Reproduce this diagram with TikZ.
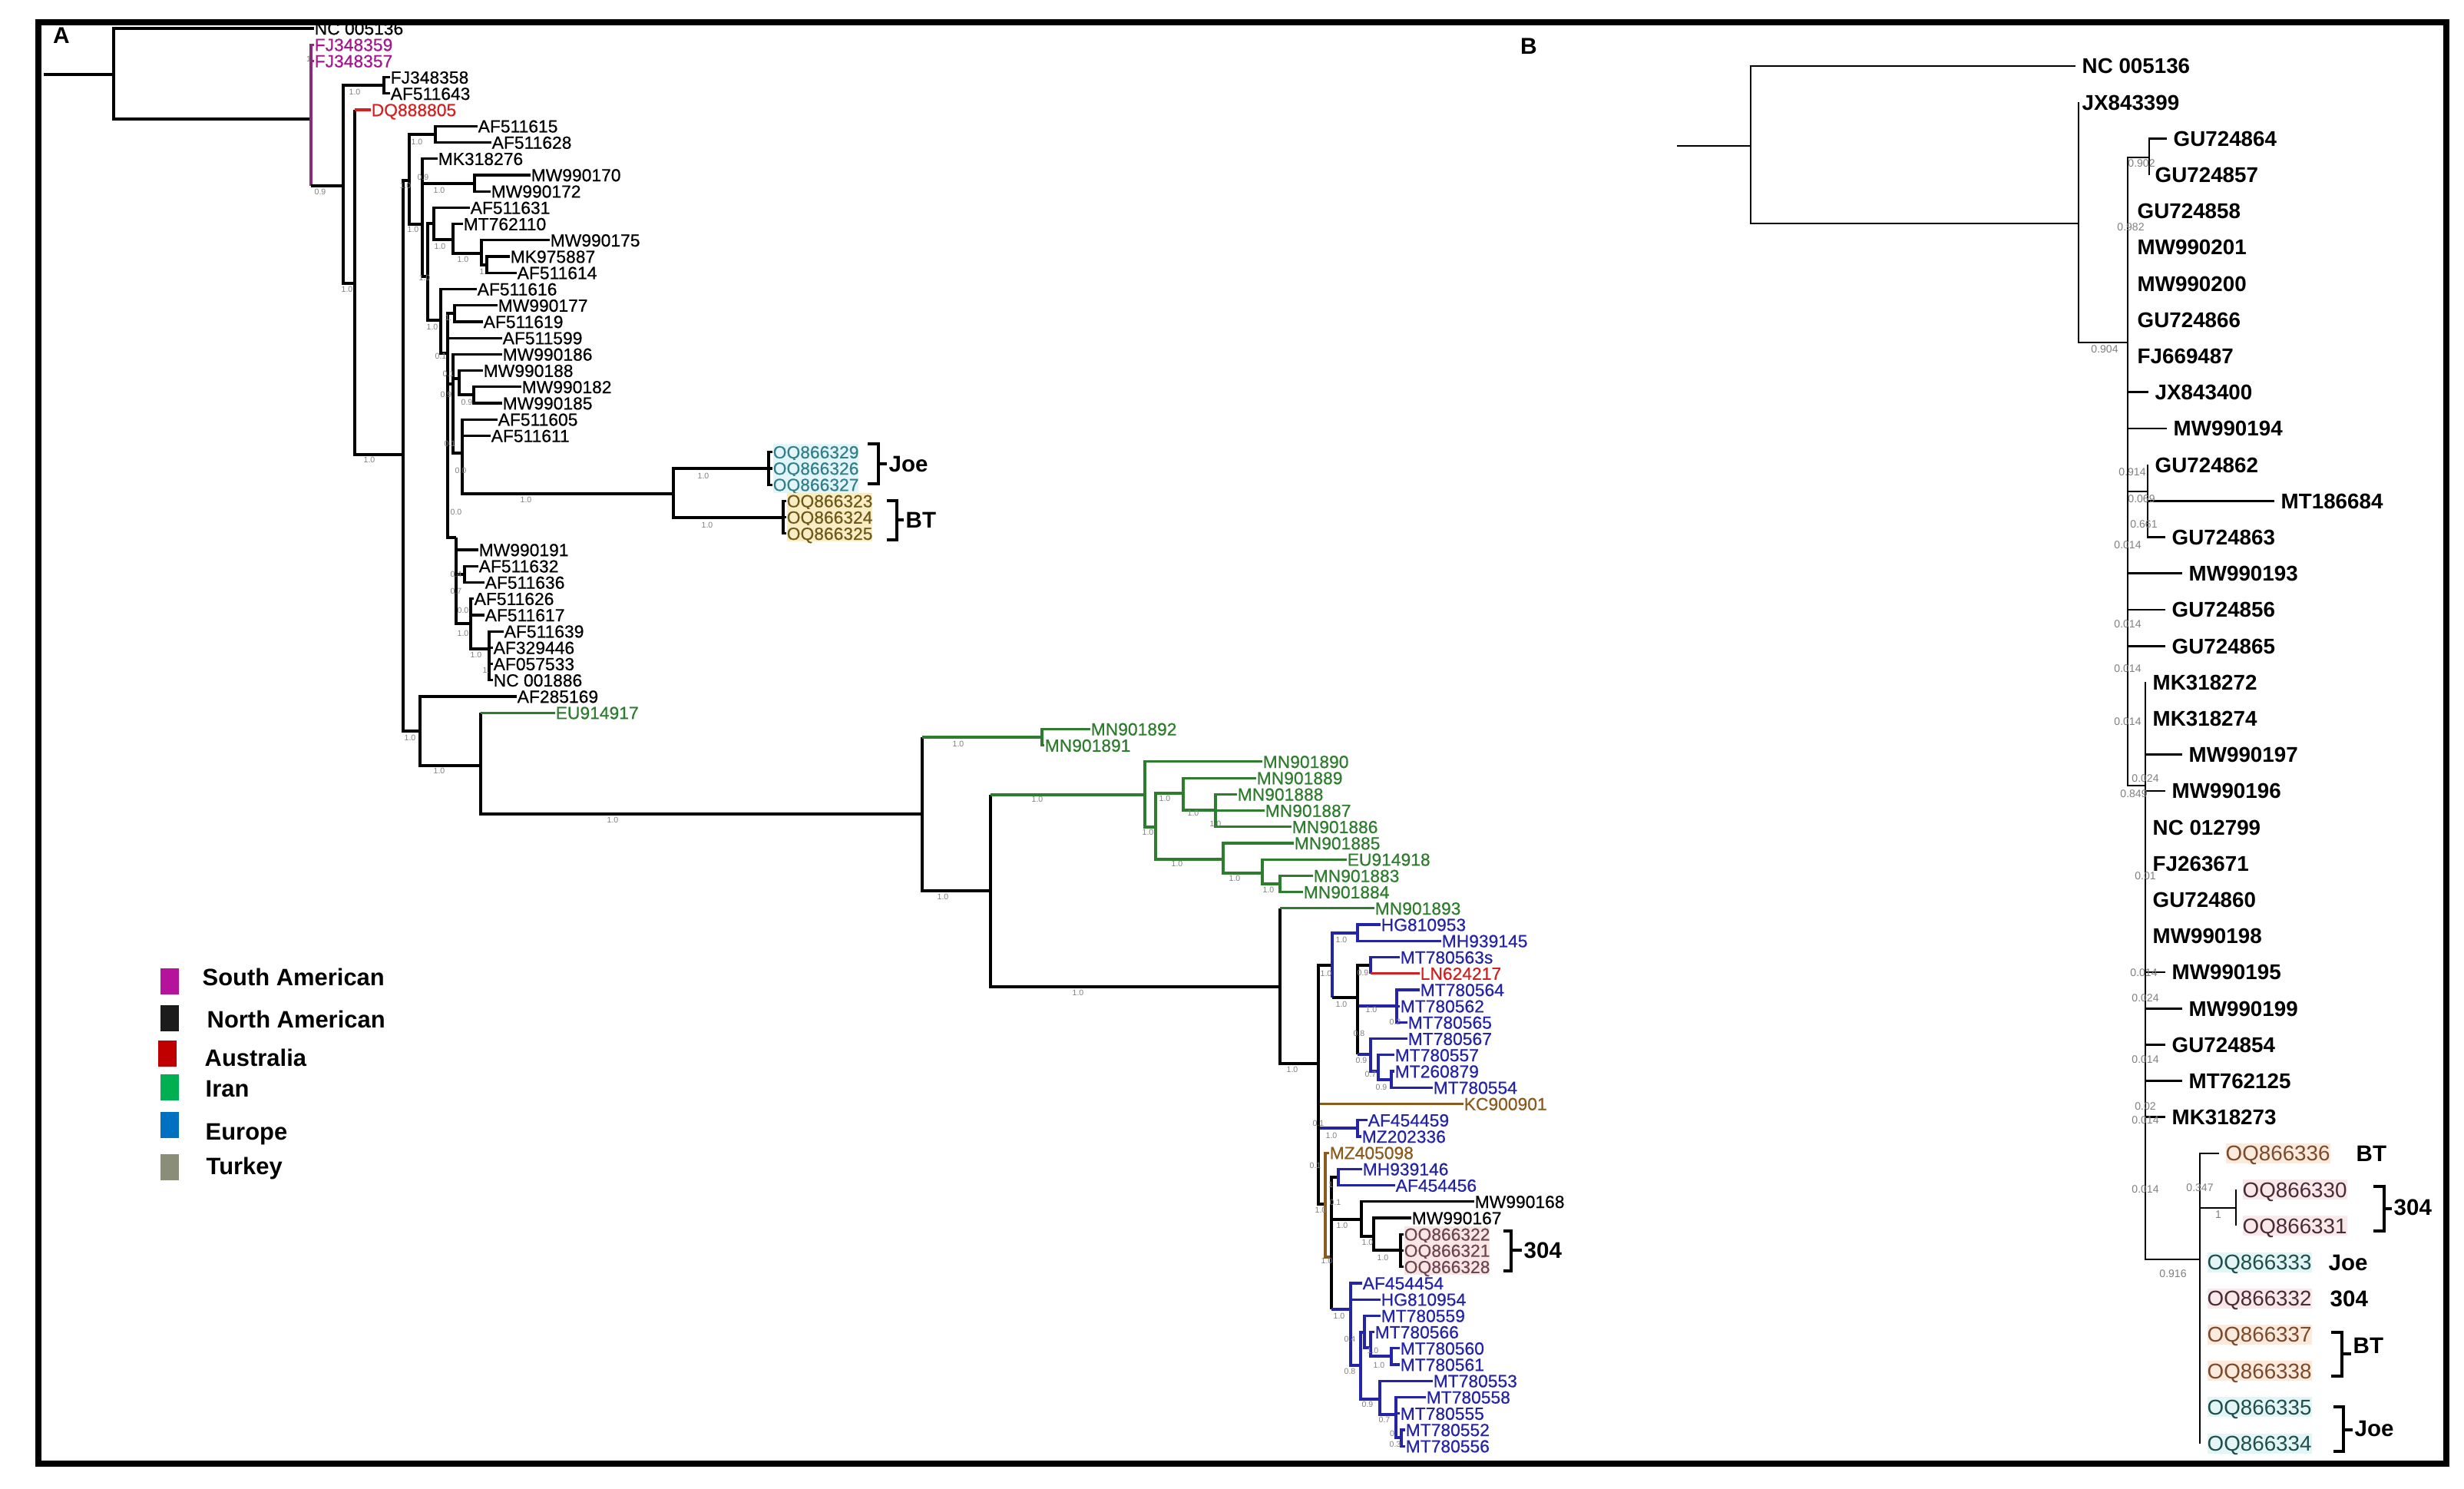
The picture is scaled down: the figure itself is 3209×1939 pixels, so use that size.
\documentclass[tikz,border=0pt]{standalone}
\usepackage{fontspec}
\setmainfont{Liberation Sans}
\newfontfamily\heavyA[FakeBold=0.6]{Liberation Sans}
\usetikzlibrary{calc}
\definecolor{cMag}{HTML}{A5168F}
\definecolor{cPur}{HTML}{8A2A7A}
\definecolor{cRed}{HTML}{D42020}
\definecolor{cGrn}{HTML}{2E7D2E}
\definecolor{cBlu}{HTML}{2424A8}
\definecolor{cBrn}{HTML}{8B5A1E}
\definecolor{tA}{HTML}{347F8C}\definecolor{tAbg}{HTML}{E2F6FA}
\definecolor{oA}{HTML}{6E5A18}\definecolor{oAbg}{HTML}{FAEDC4}
\definecolor{mA}{HTML}{6E4652}\definecolor{mAbg}{HTML}{FBE6E6}
\definecolor{bB}{HTML}{7B4A2C}\definecolor{bBbg}{HTML}{FCEADC}
\definecolor{mB}{HTML}{4A2B38}\definecolor{mBbg}{HTML}{FAE9EA}
\definecolor{tB}{HTML}{1F4E4E}\definecolor{tBbg}{HTML}{E3F5F5}
\definecolor{supgray}{HTML}{808080}
\definecolor{lgMag}{HTML}{B5139B}
\definecolor{lgBlk}{HTML}{1B1B1B}
\definecolor{lgRed}{HTML}{C00000}
\definecolor{lgGrn}{HTML}{00B050}
\definecolor{lgBlu}{HTML}{0070C0}
\definecolor{lgGry}{HTML}{8A8D78}
\tikzset{
  br/.style={line width=0.32mm},
  brB/.style={line width=0.28mm},
  lfA/.style={font=\heavyA\fontsize{6.5}{7}\selectfont, inner sep=0pt, text height=4.65pt, text depth=0pt, anchor=west},
  lfB/.style={font=\bfseries\fontsize{7.9}{9}\selectfont, inner sep=0pt, text height=5.66pt, text depth=0pt, anchor=west},
  oqAt/.style={text=tA, fill=tAbg, inner ysep=0.25mm},
  oqAo/.style={text=oA, fill=oAbg, inner ysep=0.25mm},
  oqAm/.style={text=mA, fill=mAbg, inner ysep=0.25mm},
  oqBb/.style={font=\fontsize{7.9}{9}\selectfont, text=bB, fill=bBbg, inner ysep=0.3mm},
  oqBm/.style={font=\fontsize{7.9}{9}\selectfont, text=mB, fill=mBbg, inner ysep=0.3mm},
  oqBt/.style={font=\fontsize{7.9}{9}\selectfont, text=tB, fill=tBbg, inner ysep=0.3mm},
  supA/.style={font=\fontsize{3}{3}\selectfont, text=supgray, inner sep=0pt},
  supB/.style={font=\fontsize{4}{4}\selectfont, text=supgray, inner sep=0pt},
  tagA/.style={font=\bfseries\fontsize{8.4}{9}\selectfont, inner sep=0pt, text height=6pt, text depth=0pt, anchor=west},
  brk/.style={line width=0.35mm},
  leg/.style={font=\bfseries\fontsize{8.8}{10}\selectfont, inner sep=0pt, text height=6.3pt, text depth=0pt, anchor=west},
  swatch/.style={inner sep=0pt, minimum width=2.4mm, minimum height=3.4mm, anchor=north west},
  pan/.style={font=\bfseries\fontsize{8.5}{9}\selectfont, inner sep=0pt},
}
\newcounter{supc}
\newcommand\leafa[4][]{\node[lfA,#1] (a#2) at (#3,{37+21.22*#2}) {#4};}
\newcommand\leafb[4][]{\node[lfB,#1] (b#2) at (#3,{86+47.2*#2}) {#4};}
\newcommand\brE[3][]{\draw[br,#1] (#2) |- (#3);}
\newcommand\brV[3][]{\draw[br,#1] (#2) -- (#2 |- #3);}
\newcommand\brH[3][]{\draw[br,#1] (#2 |- #3) -- (#3);}
\newcommand\bbE[2]{\draw[brB] (#1) |- (#2);}
\newcommand\bbL[2]{\draw[brB,shorten >=0.8mm] (#1) |- (#2);}
\newcommand\bbV[2]{\draw[brB] (#1) -- (#1 |- #2);}
\newcommand\supa[3]{\stepcounter{supc}\node[supA] (sup\arabic{supc}) at (#1,#2) {#3};}
\newcommand\supb[3]{\stepcounter{supc}\node[supB] (sup\arabic{supc}) at (#1,#2) {#3};}
\begin{document}
\begin{tikzpicture}[x=0.1mm,y=-0.1mm]
\useasboundingbox (0,0) rectangle (3209,1939);
\fill[white] (0,0) rectangle (3209,1939);
\draw[line width=0.8mm] (50,29) rectangle (3186,1906);
\node[pan] (panA) at (80,46) {A};
\node[pan] (panB) at (1991,60) {B};

% ---------------- Panel A leaves ----------------
\leafa{0}{409}{NC 005136}
\leafa[text=cMag]{1}{409}{FJ348359}
\leafa[text=cMag]{2}{409}{FJ348357}
\leafa{3}{508}{FJ348358}
\leafa{4}{508}{AF511643}
\leafa[text=cRed]{5}{483}{DQ888805}
\leafa{6}{622}{AF511615}
\leafa{7}{640}{AF511628}
\leafa{8}{570}{MK318276}
\leafa{9}{691}{MW990170}
\leafa{10}{639}{MW990172}
\leafa{11}{612}{AF511631}
\leafa{12}{603}{MT762110}
\leafa{13}{716}{MW990175}
\leafa{14}{664}{MK975887}
\leafa{15}{673}{AF511614}
\leafa{16}{621}{AF511616}
\leafa{17}{648}{MW990177}
\leafa{18}{629}{AF511619}
\leafa{19}{654}{AF511599}
\leafa{20}{654}{MW990186}
\leafa{21}{629}{MW990188}
\leafa{22}{679}{MW990182}
\leafa{23}{654}{MW990185}
\leafa{24}{648}{AF511605}
\leafa{25}{639}{AF511611}
\leafa[oqAt]{26}{1006}{OQ866329}
\leafa[oqAt]{27}{1006}{OQ866326}
\leafa[oqAt]{28}{1006}{OQ866327}
\leafa[oqAo]{29}{1024}{OQ866323}
\leafa[oqAo]{30}{1024}{OQ866324}
\leafa[oqAo]{31}{1024}{OQ866325}
\leafa{32}{623}{MW990191}
\leafa{33}{623}{AF511632}
\leafa{34}{631}{AF511636}
\leafa{35}{617}{AF511626}
\leafa{36}{631}{AF511617}
\leafa{37}{656}{AF511639}
\leafa{38}{642}{AF329446}
\leafa{39}{642}{AF057533}
\leafa{40}{642}{NC 001886}
\leafa{41}{673}{AF285169}
\leafa[text=cGrn]{42}{723}{EU914917}
\leafa[text=cGrn]{43}{1420}{MN901892}
\leafa[text=cGrn]{44}{1360}{MN901891}
\leafa[text=cGrn]{45}{1644}{MN901890}
\leafa[text=cGrn]{46}{1636}{MN901889}
\leafa[text=cGrn]{47}{1611}{MN901888}
\leafa[text=cGrn]{48}{1647}{MN901887}
\leafa[text=cGrn]{49}{1682}{MN901886}
\leafa[text=cGrn]{50}{1685}{MN901885}
\leafa[text=cGrn]{51}{1754}{EU914918}
\leafa[text=cGrn]{52}{1710}{MN901883}
\leafa[text=cGrn]{53}{1697}{MN901884}
\leafa[text=cGrn]{54}{1790}{MN901893}
\leafa[text=cBlu]{55}{1798}{HG810953}
\leafa[text=cBlu]{56}{1877}{MH939145}
\leafa[text=cBlu]{57}{1823}{MT780563s}
\leafa[text=cRed]{58}{1849}{LN624217}
\leafa[text=cBlu]{59}{1849}{MT780564}
\leafa[text=cBlu]{60}{1823}{MT780562}
\leafa[text=cBlu]{61}{1833}{MT780565}
\leafa[text=cBlu]{62}{1833}{MT780567}
\leafa[text=cBlu]{63}{1816}{MT780557}
\leafa[text=cBlu]{64}{1816}{MT260879}
\leafa[text=cBlu]{65}{1866}{MT780554}
\leafa[text=cBrn]{66}{1906}{KC900901}
\leafa[text=cBlu]{67}{1781}{AF454459}
\leafa[text=cBlu]{68}{1773}{MZ202336}
\leafa[text=cBrn]{69}{1731}{MZ405098}
\leafa[text=cBlu]{70}{1774}{MH939146}
\leafa[text=cBlu]{71}{1817}{AF454456}
\leafa{72}{1920}{MW990168}
\leafa{73}{1838}{MW990167}
\leafa[oqAm]{74}{1828}{OQ866322}
\leafa[oqAm]{75}{1828}{OQ866321}
\leafa[oqAm]{76}{1828}{OQ866328}
\leafa[text=cBlu]{77}{1774}{AF454454}
\leafa[text=cBlu]{78}{1798}{HG810954}
\leafa[text=cBlu]{79}{1798}{MT780559}
\leafa[text=cBlu]{80}{1790}{MT780566}
\leafa[text=cBlu]{81}{1823}{MT780560}
\leafa[text=cBlu]{82}{1823}{MT780561}
\leafa[text=cBlu]{83}{1866}{MT780553}
\leafa[text=cBlu]{84}{1857}{MT780558}
\leafa[text=cBlu]{85}{1823}{MT780555}
\leafa[text=cBlu]{86}{1830}{MT780552}
\leafa[text=cBlu]{87}{1830}{MT780556}

% ---------------- Panel A internal nodes ----------------
\coordinate (R0) at (57,97);
\coordinate (R) at (148,97);
\coordinate (N1) at (405,155);
\coordinate (N2) at (447,242);
\coordinate (N3) at (500,111);
\coordinate (N4) at (462,369);
\coordinate (N5) at (525,592);
\coordinate (N6) at (533,235);
\coordinate (N6a) at (567,175);
\coordinate (N6b) at (550,292);
\coordinate (N6c) at (618,239);
\coordinate (N6e) at (557,360);
\coordinate (N6f) at (565,291);
\coordinate (N6h) at (590,312);
\coordinate (N6i) at (627,330);
\coordinate (N6j) at (634,345);
\coordinate (N6g) at (574,417);
\coordinate (N6k) at (583,460);
\coordinate (N6l) at (592,408);
\coordinate (N6m) at (590,500);
\coordinate (N6n) at (598,493);
\coordinate (N6o) at (617,514);
\coordinate (N6p) at (602,590);
\coordinate (N6r) at (877,643);
\coordinate (N6r1) at (1001,610);
\coordinate (N6r2) at (1020,674);
\coordinate (N6q) at (594,700);
\coordinate (N6s) at (605,748);
\coordinate (N6t) at (613,812);
\coordinate (N6u) at (637,845);
\coordinate (N7) at (547,952);
\coordinate (N8) at (626,997);
\coordinate (N9) at (1201,1060);
\coordinate (N10) at (1357,960);
\coordinate (N11) at (1290,1160);
\coordinate (N12) at (1491,1035);
\coordinate (N13) at (1505,1077);
\coordinate (N14) at (1541,1033);
\coordinate (N15) at (1583,1055);
\coordinate (N16) at (1593,1119);
\coordinate (N17) at (1644,1137);
\coordinate (N18) at (1667,1151);
\coordinate (N20) at (1667,1285);
\coordinate (N21) at (1717,1385);
\coordinate (N22) at (1735,1257);
\coordinate (N23) at (1768,1215);
\coordinate (N24) at (1768,1299);
\coordinate (N25) at (1785,1257);
\coordinate (N26) at (1819,1310);
\coordinate (N27) at (1785,1373);
\coordinate (N28) at (1795,1395);
\coordinate (N29) at (1812,1406);
\coordinate (N30) at (1768,1469);
\coordinate (N31) at (1726,1568);
\coordinate (N32) at (1734,1637);
\coordinate (N33) at (1743,1533);
\coordinate (N34) at (1773,1588);
\coordinate (N35) at (1789,1610);
\coordinate (N36) at (1824,1628);
\coordinate (N40) at (1759,1705);
\coordinate (N41) at (1772,1778);
\coordinate (N42) at (1777,1735);
\coordinate (N43) at (1785,1755);
\coordinate (N44) at (1812,1766);
\coordinate (N45) at (1797,1822);
\coordinate (N46) at (1818,1842);
\coordinate (N47) at (1825,1872);

% ---------------- Panel A branches ----------------
\draw[br] (R0) -- (R);
\brE{R}{a0} \brE{R}{N1}
\brE[cPur]{N1}{a1} \brE[cPur]{N1}{a2} \brV[cPur]{N1}{N2} \brH{N1}{N2}
\brE{N2}{N3} \brE{N2}{N4}
\brE{N3}{a3} \brE{N3}{a4}
\brV{N4}{a5} \brH[cRed]{N4}{a5} \brE{N4}{N5}
\brE{N5}{N6} \brE{N5}{N7}
\brE{N6}{N6a} \brE{N6}{N6b}
\brE{N6a}{a6} \brE{N6a}{a7}
\brE{N6b}{a8} \brE{N6b}{N6c} \brE{N6b}{N6e}
\brE{N6c}{a9} \brE{N6c}{a10}
\brE{N6e}{N6f} \brE{N6e}{N6g}
\brE{N6f}{a11} \brE{N6f}{N6h}
\brE{N6h}{a12} \brE{N6h}{N6i}
\brE{N6i}{a13} \brE{N6i}{N6j}
\brE{N6j}{a14} \brE{N6j}{a15}
\brE{N6g}{a16} \brE{N6g}{N6k}
\brE{N6k}{N6l} \brE{N6k}{a19} \brE{N6k}{N6m} \brE{N6k}{N6q}
\brE{N6l}{a17} \brE{N6l}{a18}
\brE{N6m}{a20} \brE{N6m}{N6n} \brE{N6m}{N6p}
\brE{N6n}{a21} \brE{N6n}{N6o}
\brE{N6o}{a22} \brE{N6o}{a23}
\brE{N6p}{a24} \brE{N6p}{a25} \brE{N6p}{N6r}
\brE{N6r}{N6r1} \brE{N6r}{N6r2}
\brE{N6r1}{a26} \brE{N6r1}{a27} \brE{N6r1}{a28}
\brE{N6r2}{a29} \brE{N6r2}{a30} \brE{N6r2}{a31}
\brE{N6q}{a32} \brE{N6q}{N6s} \brE{N6q}{N6t}
\brE{N6s}{a33} \brE{N6s}{a34}
\brE{N6t}{a35} \brE{N6t}{a36} \brE{N6t}{N6u}
\brE{N6u}{a37} \brE{N6u}{a38} \brE{N6u}{a39} \brE{N6u}{a40}
\brE{N7}{a41} \brE{N7}{N8}
\brV{N8}{a42} \brH[cGrn]{N8}{a42} \brE{N8}{N9}
\brV{N9}{N10} \brH[cGrn]{N9}{N10} \brE{N9}{N11}
\brE[cGrn]{N10}{a43} \brE[cGrn]{N10}{a44}
\brV{N11}{N12} \brH[cGrn]{N11}{N12} \brE{N11}{N20}
\brE[cGrn]{N12}{a45} \brE[cGrn]{N12}{N13}
\brE[cGrn]{N13}{N14} \brE[cGrn]{N13}{N16}
\brE[cGrn]{N14}{a46} \brE[cGrn]{N14}{N15}
\brE[cGrn]{N15}{a47} \brE[cGrn]{N15}{a48} \brE[cGrn]{N15}{a49}
\brE[cGrn]{N16}{a50} \brE[cGrn]{N16}{N17}
\brE[cGrn]{N17}{a51} \brE[cGrn]{N17}{N18}
\brE[cGrn]{N18}{a52} \brE[cGrn]{N18}{a53}
\brV{N20}{a54} \brH[cGrn]{N20}{a54} \brE{N20}{N21}
\brE{N21}{N22}
\brV{N21}{a66} \brH[cBrn]{N21}{a66}
\brV{N21}{N30} \brH[cBlu]{N21}{N30}
\brE{N21}{N31}
\brE[cBlu]{N22}{N23} \brV[cBlu]{N22}{N24} \brH{N22}{N24}
\brE[cBlu]{N23}{a55} \brE[cBlu]{N23}{a56}
\brE{N24}{N25}
\brV{N24}{N26} \brH[cBlu]{N24}{N26}
\brV{N24}{N27} \brH[cBlu]{N24}{N27}
\brE[cBlu]{N25}{a57} \brV[cBlu]{N25}{a58} \brH[cRed]{N25}{a58}
\brE[cBlu]{N26}{a59} \brE[cBlu]{N26}{a60} \brE[cBlu]{N26}{a61}
\brE[cBlu]{N27}{a62} \brE[cBlu]{N27}{N28}
\brE[cBlu]{N28}{a63} \brE[cBlu]{N28}{N29}
\brE[cBlu]{N29}{a64} \brE[cBlu]{N29}{a65}
\brE[cBlu]{N30}{a67} \brE[cBlu]{N30}{a68}
\brE[cBrn]{N31}{a69} \brE[cBrn]{N31}{N32}
\brE{N32}{N33} \brE{N32}{N34} \brV{N32}{N40} \brH[cBlu]{N32}{N40}
\brE[cBlu]{N33}{a70} \brE[cBlu]{N33}{a71}
\brE{N34}{a72} \brE{N34}{N35}
\brE{N35}{a73} \brE{N35}{N36}
\brE{N36}{a74} \brE{N36}{a75} \brE{N36}{a76}
\brE[cBlu]{N40}{a77} \brE[cBlu]{N40}{a78} \brE[cBlu]{N40}{N41}
\brE[cBlu]{N41}{N42} \brE[cBlu]{N41}{N45}
\brE[cBlu]{N42}{a79} \brE[cBlu]{N42}{N43}
\brE[cBlu]{N43}{a80} \brE[cBlu]{N43}{N44}
\brE[cBlu]{N44}{a81} \brE[cBlu]{N44}{a82}
\brE[cBlu]{N45}{a83} \brE[cBlu]{N45}{N46}
\brE[cBlu]{N46}{a84} \brE[cBlu]{N46}{a85} \brE[cBlu]{N46}{N47}
\brE[cBlu]{N47}{a86} \brE[cBlu]{N47}{a87}

% brackets A
\draw[brk] (1130,578) -- (1144,578) -- (1144,630) -- (1130,630);
\draw[brk] (1144,604) -- (1155,604);
\node[tagA] (tJoeA) at (1157,604) {Joe};
\draw[brk] (1155,652) -- (1168,652) -- (1168,703) -- (1155,703);
\draw[brk] (1168,677) -- (1177,677);
\node[tagA] (tBTA) at (1179,677) {BT};
\draw[brk] (1958,1603) -- (1968,1603) -- (1968,1655) -- (1958,1655);
\draw[brk] (1968,1628) -- (1982,1628);
\node[tagA] (t304A) at (1984,1628) {304};

% supports A
\supa{402}{77}{1}
\supa{462}{120}{1.0}
\supa{417}{250}{0.9}
\supa{452}{377}{1.0}
\supa{543}{185}{1.0}
\supa{551}{231}{0.9}
\supa{528}{242}{1.0}
\supa{572}{248}{1.0}
\supa{538}{299}{1.0}
\supa{573}{321}{1.0}
\supa{603}{338}{1.0}
\supa{629}{354}{1.}
\supa{553}{362}{1.0}
\supa{563}{426}{1.0}
\supa{584}{414}{1.}
\supa{574}{464}{0.1}
\supa{584}{487}{0.1}
\supa{581}{514}{0.9}
\supa{608}{524}{0.9}
\supa{586}{578}{0.1}
\supa{481}{599}{1.0}
\supa{600}{613}{0.0}
\supa{685}{651}{1.0}
\supa{594}{667}{0.0}
\supa{916}{620}{1.0}
\supa{921}{684}{1.0}
\supa{594}{748}{0.4}
\supa{594}{770}{0.7}
\supa{603}{795}{0.0}
\supa{603}{825}{1.0}
\supa{620}{853}{1.0}
\supa{633}{873}{1.}
\supa{534}{961}{1.0}
\supa{572}{1004}{1.0}
\supa{798}{1068}{1.0}
\supa{1248}{969}{1.0}
\supa{1228}{1168}{1.0}
\supa{1351}{1041}{1.0}
\supa{1404}{1293}{1.0}
\supa{1517}{1040}{1.0}
\supa{1495}{1084}{1.0}
\supa{1554}{1059}{1.0}
\supa{1583}{1073}{1.0}
\supa{1533}{1125}{1.0}
\supa{1608}{1144}{1.0}
\supa{1652}{1159}{1.0}
\supa{1683}{1393}{1.0}
\supa{1727}{1268}{1.0}
\supa{1747}{1224}{1.0}
\supa{1747}{1308}{1.0}
\supa{1775}{1267}{0.9}
\supa{1786}{1315}{1.0}
\supa{1817}{1331}{0.2}
\supa{1770}{1346}{0.8}
\supa{1773}{1381}{0.9}
\supa{1785}{1399}{0.7}
\supa{1799}{1416}{0.9}
\supa{1717}{1463}{0.1}
\supa{1734}{1479}{1.0}
\supa{1713}{1518}{0.1}
\supa{1720}{1576}{1.0}
\supa{1739}{1566}{0.1}
\supa{1733}{1543}{1}
\supa{1748}{1596}{1.0}
\supa{1781}{1618}{1.0}
\supa{1801}{1638}{1.0}
\supa{1728}{1642}{1.0}
\supa{1744}{1714}{1.0}
\supa{1758}{1744}{0.4}
\supa{1788}{1759}{1.0}
\supa{1758}{1786}{0.8}
\supa{1796}{1778}{1.0}
\supa{1781}{1829}{0.9}
\supa{1803}{1849}{0.7}
\supa{1813}{1867}{0}
\supa{1817}{1881}{0.3}

% legend
\node[swatch, fill=lgMag] (sw1) at (208,1260) {};
\node[swatch, fill=lgBlk] (sw2) at (208,1308) {};
\node[swatch, fill=lgRed] (sw3) at (205,1354) {};
\node[swatch, fill=lgGrn] (sw4) at (208,1398) {};
\node[swatch, fill=lgBlu] (sw5) at (208,1447) {};
\node[swatch, fill=lgGry] (sw6) at (208,1502) {};
\node[leg] (lg1) at (263,1272) {South American};
\node[leg] (lg2) at (269,1327) {North American};
\node[leg] (lg3) at (266,1377) {Australia};
\node[leg] (lg4) at (267,1417) {Iran};
\node[leg] (lg5) at (267,1473) {Europe};
\node[leg] (lg6) at (268,1518) {Turkey};

% ---------------- Panel B ----------------
\leafb{0}{2711}{NC 005136}
\leafb{1}{2711}{JX843399}
\leafb{2}{2830}{GU724864}
\leafb{3}{2806}{GU724857}
\leafb{4}{2783}{GU724858}
\leafb{5}{2783}{MW990201}
\leafb{6}{2783}{MW990200}
\leafb{7}{2783}{GU724866}
\leafb{8}{2783}{FJ669487}
\leafb{9}{2806}{JX843400}
\leafb{10}{2830}{MW990194}
\leafb{11}{2806}{GU724862}
\leafb{12}{2970}{MT186684}
\leafb{13}{2828}{GU724863}
\leafb{14}{2850}{MW990193}
\leafb{15}{2828}{GU724856}
\leafb{16}{2828}{GU724865}
\leafb{17}{2803}{MK318272}
\leafb{18}{2803}{MK318274}
\leafb{19}{2850}{MW990197}
\leafb{20}{2828}{MW990196}
\leafb{21}{2803}{NC 012799}
\leafb{22}{2803}{FJ263671}
\leafb{23}{2803}{GU724860}
\leafb{24}{2803}{MW990198}
\leafb{25}{2828}{MW990195}
\leafb{26}{2850}{MW990199}
\leafb{27}{2828}{GU724854}
\leafb{28}{2850}{MT762125}
\leafb{29}{2828}{MK318273}
\leafb[oqBb]{30}{2898}{OQ866336}
\leafb[oqBm]{31}{2920}{OQ866330}
\leafb[oqBm]{32}{2920}{OQ866331}
\leafb[oqBt]{33}{2874}{OQ866333}
\leafb[oqBm]{34}{2874}{OQ866332}
\leafb[oqBb]{35}{2874}{OQ866337}
\leafb[oqBb]{36}{2874}{OQ866338}
\leafb[oqBt]{37}{2874}{OQ866335}
\leafb[oqBt]{38}{2874}{OQ866334}

\coordinate (B0) at (2184,190);
\coordinate (Br) at (2280,190);
\coordinate (Bn1) at (2707,291);
\coordinate (Bn2) at (2771,446);
\coordinate (Bn3) at (2799,205);
\coordinate (Bn4) at (2797,640);
\coordinate (Bn5) at (2794,1023);
\coordinate (Bn6) at (2865,1640);
\coordinate (Bn7) at (2912,1573);

\draw[brB] (B0) -- (Br);
\bbL{Br}{b0} \bbE{Br}{Bn1}
\bbV{Bn1}{b1} \bbE{Bn1}{Bn2}
\bbE{Bn2}{Bn3} \bbE{Bn2}{Bn4} \bbE{Bn2}{Bn5}
\bbL{Bn2}{b9} \bbL{Bn2}{b10} \bbL{Bn2}{b14} \bbL{Bn2}{b15} \bbL{Bn2}{b16}
\bbL{Bn3}{b2} \bbV{Bn3}{b3}
\bbV{Bn4}{b11} \bbL{Bn4}{b12} \bbL{Bn4}{b13}
\bbV{Bn5}{b17}
\bbL{Bn5}{b19} \bbL{Bn5}{b20} \bbL{Bn5}{b25} \bbL{Bn5}{b26}
\bbL{Bn5}{b27} \bbL{Bn5}{b28} \bbL{Bn5}{b29}
\bbE{Bn5}{Bn6}
\bbL{Bn6}{b30} \bbE{Bn6}{Bn7} \bbV{Bn6}{b38}
\bbV{Bn7}{b31} \bbV{Bn7}{b32}

% tags and brackets B
\node[tagA] (tBT1) at (3068,1502) {BT};
\draw[brk] (3091,1545) -- (3105,1545) -- (3105,1603) -- (3091,1603);
\draw[brk] (3105,1574) -- (3115,1574);
\node[tagA] (t304B) at (3117,1572) {304};
\node[tagA] (tJoe1) at (3032,1644) {Joe};
\node[tagA] (t304c) at (3034,1691) {304};
\draw[brk] (3036,1735) -- (3050,1735) -- (3050,1792) -- (3036,1792);
\draw[brk] (3050,1763) -- (3062,1763);
\node[tagA] (tBT2) at (3064,1752) {BT};
\draw[brk] (3039,1832) -- (3052,1832) -- (3052,1890) -- (3039,1890);
\draw[brk] (3052,1862) -- (3064,1862);
\node[tagA] (tJoe2) at (3066,1860) {Joe};

% supports B
\supb{2789}{213}{0.902}
\supb{2775}{296}{0.982}
\supb{2741}{455}{0.904}
\supb{2777}{615}{0.914}
\supb{2789}{650}{0.069}
\supb{2792}{683}{0.661}
\supb{2771}{710}{0.014}
\supb{2771}{813}{0.014}
\supb{2771}{871}{0.014}
\supb{2771}{940}{0.014}
\supb{2794}{1014}{0.024}
\supb{2779}{1034}{0.849}
\supb{2794}{1141}{0.01}
\supb{2792}{1267}{0.014}
\supb{2794}{1300}{0.024}
\supb{2794}{1380}{0.014}
\supb{2794}{1441}{0.02}
\supb{2794}{1459}{0.014}
\supb{2794}{1549}{0.014}
\supb{2865}{1547}{0.347}
\supb{2889}{1582}{1}
\supb{2830}{1659}{0.916}
\end{tikzpicture}
\end{document}
